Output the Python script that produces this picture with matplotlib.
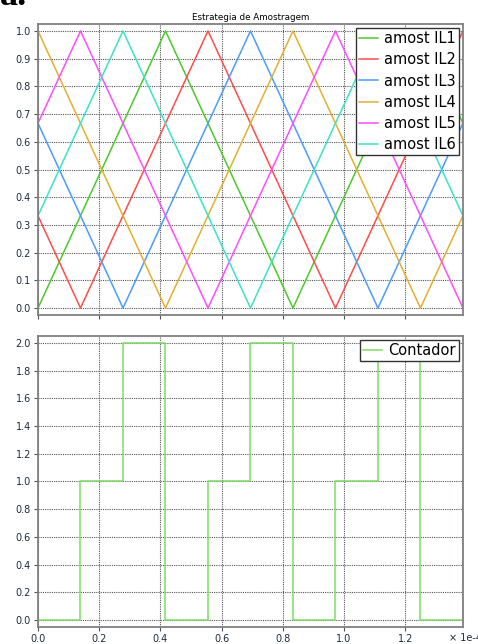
# Estrategia de amostragem: seis sinais triangulares e o contador
import matplotlib.pyplot as plt

# vertices das ondas (eixo x em unidades de 1e-4 s)
x_il1 = [0.0, 0.4167, 0.8333, 1.25, 1.3889]
y_il1 = [0.0, 1.0, 0.0, 1.0, 0.667]
x_il2 = [0.0, 0.1389, 0.5556, 0.9722, 1.3889]
y_il2 = [0.333, 0.0, 1.0, 0.0, 1.0]
x_il3 = [0.0, 0.2778, 0.6944, 1.1111, 1.3889]
y_il3 = [0.667, 0.0, 1.0, 0.0, 0.667]
x_il4 = [0.0, 0.4167, 0.8333, 1.25, 1.3889]
y_il4 = [1.0, 0.0, 1.0, 0.0, 0.333]
x_il5 = [0.0, 0.1389, 0.5556, 0.9722, 1.3889]
y_il5 = [0.667, 1.0, 0.0, 1.0, 0.0]
x_il6 = [0.0, 0.2778, 0.6944, 1.1111, 1.3889]
y_il6 = [0.333, 1.0, 0.0, 1.0, 0.333]

# contador (degraus)
x_cont = [0.0, 0.1389, 0.2778, 0.4167, 0.5556, 0.6944, 0.8333, 0.9722, 1.1111, 1.25, 1.3889]
y_cont = [0, 1, 2, 0, 1, 2, 0, 1, 2, 0, 1]

nomes = ['amost IL1', 'amost IL2', 'amost IL3', 'amost IL4', 'amost IL5', 'amost IL6']
cores = ['#4cc92c', '#ff4d4d', '#4d9bff', '#e2b030', '#ff4dff', '#3de3c4']

xticks = [0.0, 0.2, 0.4, 0.6, 0.8, 1.0, 1.2]
yticks_top = [0.0, 0.1, 0.2, 0.3, 0.4, 0.5, 0.6, 0.7, 0.8, 0.9, 1.0]
yticks_bot = [0.0, 0.2, 0.4, 0.6, 0.8, 1.0, 1.2, 1.4, 1.6, 1.8, 2.0]

plt.rcParams['font.family'] = 'DejaVu Sans'
fig = plt.figure(figsize=(4.78, 6.44), dpi=100)
ax1 = fig.add_axes([0.0795, 0.5109, 0.889, 0.4518])
ax2 = fig.add_axes([0.0795, 0.0264, 0.889, 0.4519])

xs = [x_il1, x_il2, x_il3, x_il4, x_il5, x_il6]
ys = [y_il1, y_il2, y_il3, y_il4, y_il5, y_il6]
for x, y, c, n in zip(xs, ys, cores, nomes):
    ax1.plot(x, y, color=c, lw=1.1, label=n)

ax2.plot(x_cont, y_cont, drawstyle='steps-post', color='#7ddc66', lw=1.1, label='Contador')

for ax in (ax1, ax2):
    ax.set_xlim(0, 1.3889)
    ax.set_xticks(xticks)
    ax.grid(True, color='#555555', lw=0.8, ls=(0, (1, 1)))
    ax.tick_params(labelsize=7, labelcolor='#1e2a3c', length=3, width=0.8, color='#555555', pad=2)
    for s in ax.spines.values():
        s.set_color('#808080')
        s.set_linewidth(1.3)

ax1.set_ylim(-0.025, 1.025)
ax1.set_yticks(yticks_top)
ax1.set_yticklabels(['%.1f' % v for v in yticks_top])
ax1.tick_params(labelbottom=False)
ax1.set_title('Estrategia de Amostragem', fontsize=6.3, pad=3)

ax2.set_ylim(-0.05, 2.05)
ax2.set_yticks(yticks_bot)
ax2.set_yticklabels(['%.1f' % v for v in yticks_bot])
ax2.set_xticklabels(['%.1f' % v for v in xticks])

leg_kw = dict(loc='upper right', fontsize=10.5, frameon=True, fancybox=False,
              edgecolor='#333333', framealpha=1, handlelength=1.3, handletextpad=0.4,
              borderpad=0.2, borderaxespad=0.3, labelspacing=0.42)
l1 = ax1.legend(**leg_kw)
l2 = ax2.legend(**leg_kw)
for l in (l1, l2):
    l.get_frame().set_linewidth(1.0)

fig.text(449 / 478, 1 - 641 / 644, '× 1e-4', fontsize=7, color='#1e2a3c', va='baseline')
fig.text(0.0, 1 - 5 / 644, 'a.', fontsize=26, family='Liberation Serif', weight='bold', va='baseline')

fig.savefig('out.png', dpi=100)
